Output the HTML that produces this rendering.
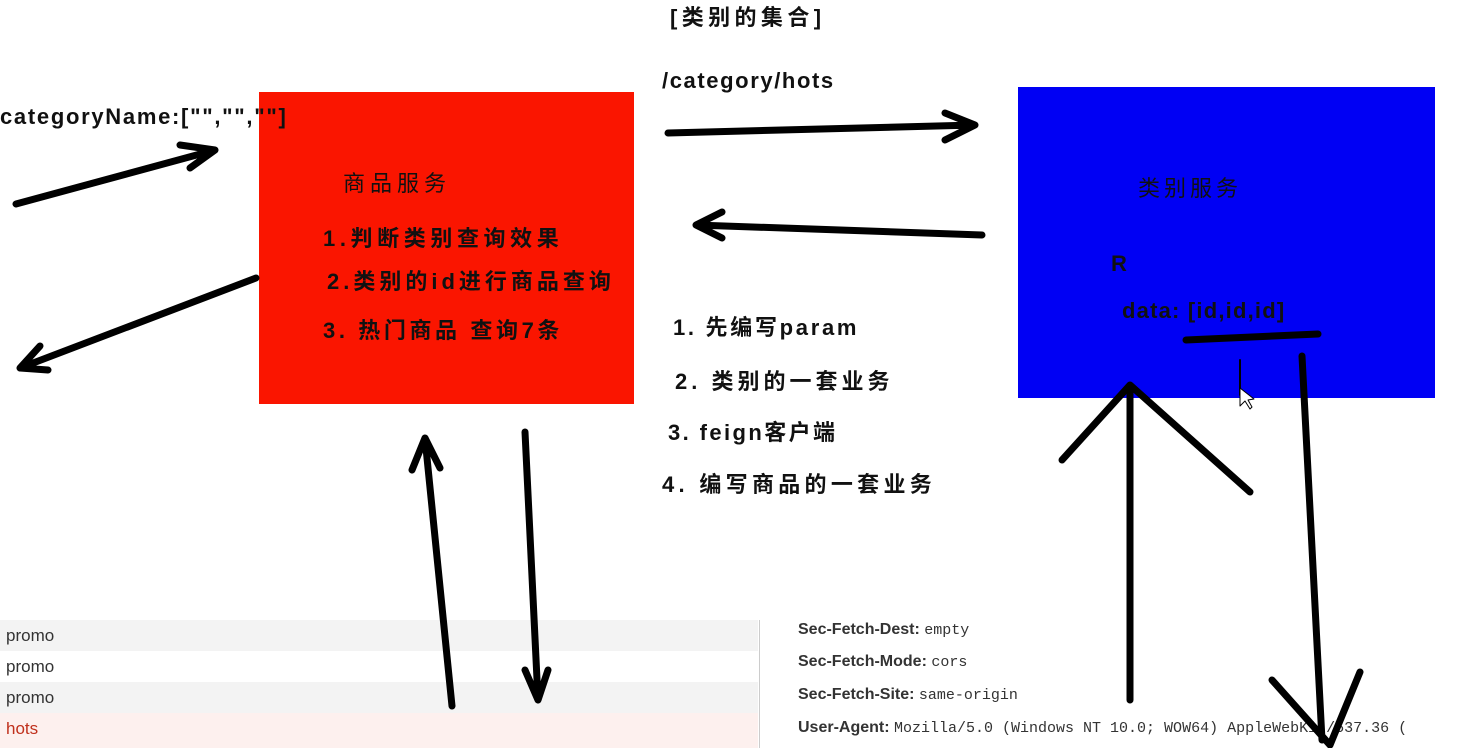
<!DOCTYPE html>
<html><head><meta charset="utf-8"><style>
body{margin:0;width:1472px;height:748px;background:#fff;position:relative;overflow:hidden;font-family:"Liberation Sans","Noto Sans CJK SC",sans-serif}
.t{position:absolute;white-space:nowrap;font-weight:bold;color:#111}
.r{position:absolute;left:0;width:758px;height:31px;font-size:17px;line-height:31px;padding-left:6px;box-sizing:border-box;color:#333;font-weight:normal}
.h{position:absolute;left:798px;font-size:16px;white-space:nowrap;color:#333}
.h b{font-weight:bold}
.h span{font-family:"Liberation Mono",monospace;font-size:15px}
</style></head><body>
<div class="r" style="top:620px;background:#f3f3f3">promo</div>
<div class="r" style="top:651px;background:#fff">promo</div>
<div class="r" style="top:682px;background:#f3f3f3">promo</div>
<div class="r" style="top:713px;height:35px;background:#fdf0ee;color:#c0301c">hots</div>
<div style="position:absolute;left:759px;top:620px;width:1px;height:128px;background:#ccc"></div>
<div class="h" style="top:621px"><b>Sec-Fetch-Dest:</b> <span>empty</span></div>
<div class="h" style="top:653px"><b>Sec-Fetch-Mode:</b> <span>cors</span></div>
<div class="h" style="top:686px"><b>Sec-Fetch-Site:</b> <span>same-origin</span></div>
<div class="h" style="top:719px"><b>User-Agent:</b> <span>Mozilla/5.0 (Windows NT 10.0; WOW64) AppleWebKit/537.36 (</span></div>

<div style="position:absolute;left:259px;top:92px;width:375px;height:312px;background:#fa1500"></div>
<div style="position:absolute;left:1018px;top:87px;width:417px;height:311px;background:#0000f4"></div>

<div class="t" style="left:670px;top:0px;font-size:22px;letter-spacing:4.4px">[类别的集合]</div>
<div class="t" style="left:662px;top:68px;font-size:22px;letter-spacing:1.6px">/category/hots</div>
<div class="t" style="left:0px;top:104px;font-size:22px;letter-spacing:1.7px">categoryName:["","",""]</div>
<div class="t" style="left:343px;top:166px;font-size:22px;font-weight:normal;letter-spacing:5px">商品服务</div>
<div class="t" style="left:323px;top:221px;font-size:22px;letter-spacing:4.6px">1.判断类别查询效果</div>
<div class="t" style="left:327px;top:264px;font-size:22px;letter-spacing:4px">2.类别的id进行商品查询</div>
<div class="t" style="left:323px;top:313px;font-size:22px;letter-spacing:3.6px">3. 热门商品 查询7条</div>
<div class="t" style="left:1138px;top:171px;font-size:22px;font-weight:normal;letter-spacing:4px">类别服务</div>
<div class="t" style="left:1111px;top:251px;font-size:22px">R</div>
<div class="t" style="left:1122px;top:298px;font-size:22px;letter-spacing:1.2px">data: [id,id,id]</div>
<div class="t" style="left:673px;top:310px;font-size:22px;letter-spacing:2.7px">1. 先编写param</div>
<div class="t" style="left:675px;top:364px;font-size:22px;letter-spacing:4px">2. 类别的一套业务</div>
<div class="t" style="left:668px;top:415px;font-size:22px;letter-spacing:2.4px">3. feign客户端</div>
<div class="t" style="left:662px;top:467px;font-size:22px;letter-spacing:4.3px">4. 编写商品的一套业务</div>

<svg width="1472" height="748" style="position:absolute;left:0;top:0" fill="none" stroke="#000" stroke-linecap="round" stroke-linejoin="round">
<g stroke-width="7">
<path d="M16 204 L215 150 M180 145 L215 150 L190 168"/>
<path d="M256 278 L20 368 M40 346 L20 368 L48 370"/>
<path d="M668 133 L975 125 M945 113 L975 125 L945 140"/>
<path d="M982 235 L696 225 M722 212 L696 225 L722 238"/>
<path d="M452 706 L425 438 M412 470 L425 438 L440 468"/>
<path d="M525 432 L538 700 M525 670 L538 700 L548 670"/>
<path d="M1130 700 L1130 385 M1062 460 L1130 385 L1250 492"/>
<path d="M1302 356 L1322 740 M1272 680 L1330 745 L1360 672"/>
<path d="M1186 340 L1318 334"/>
</g>
<path d="M1240 360 L1240 395" stroke-width="2"/>
<path d="M1240 388 L1240 406 L1245 401 L1250 409 L1252 407 L1248 400 L1254 399 Z" fill="#fff" stroke-width="1"/>
</svg>
</body></html>
